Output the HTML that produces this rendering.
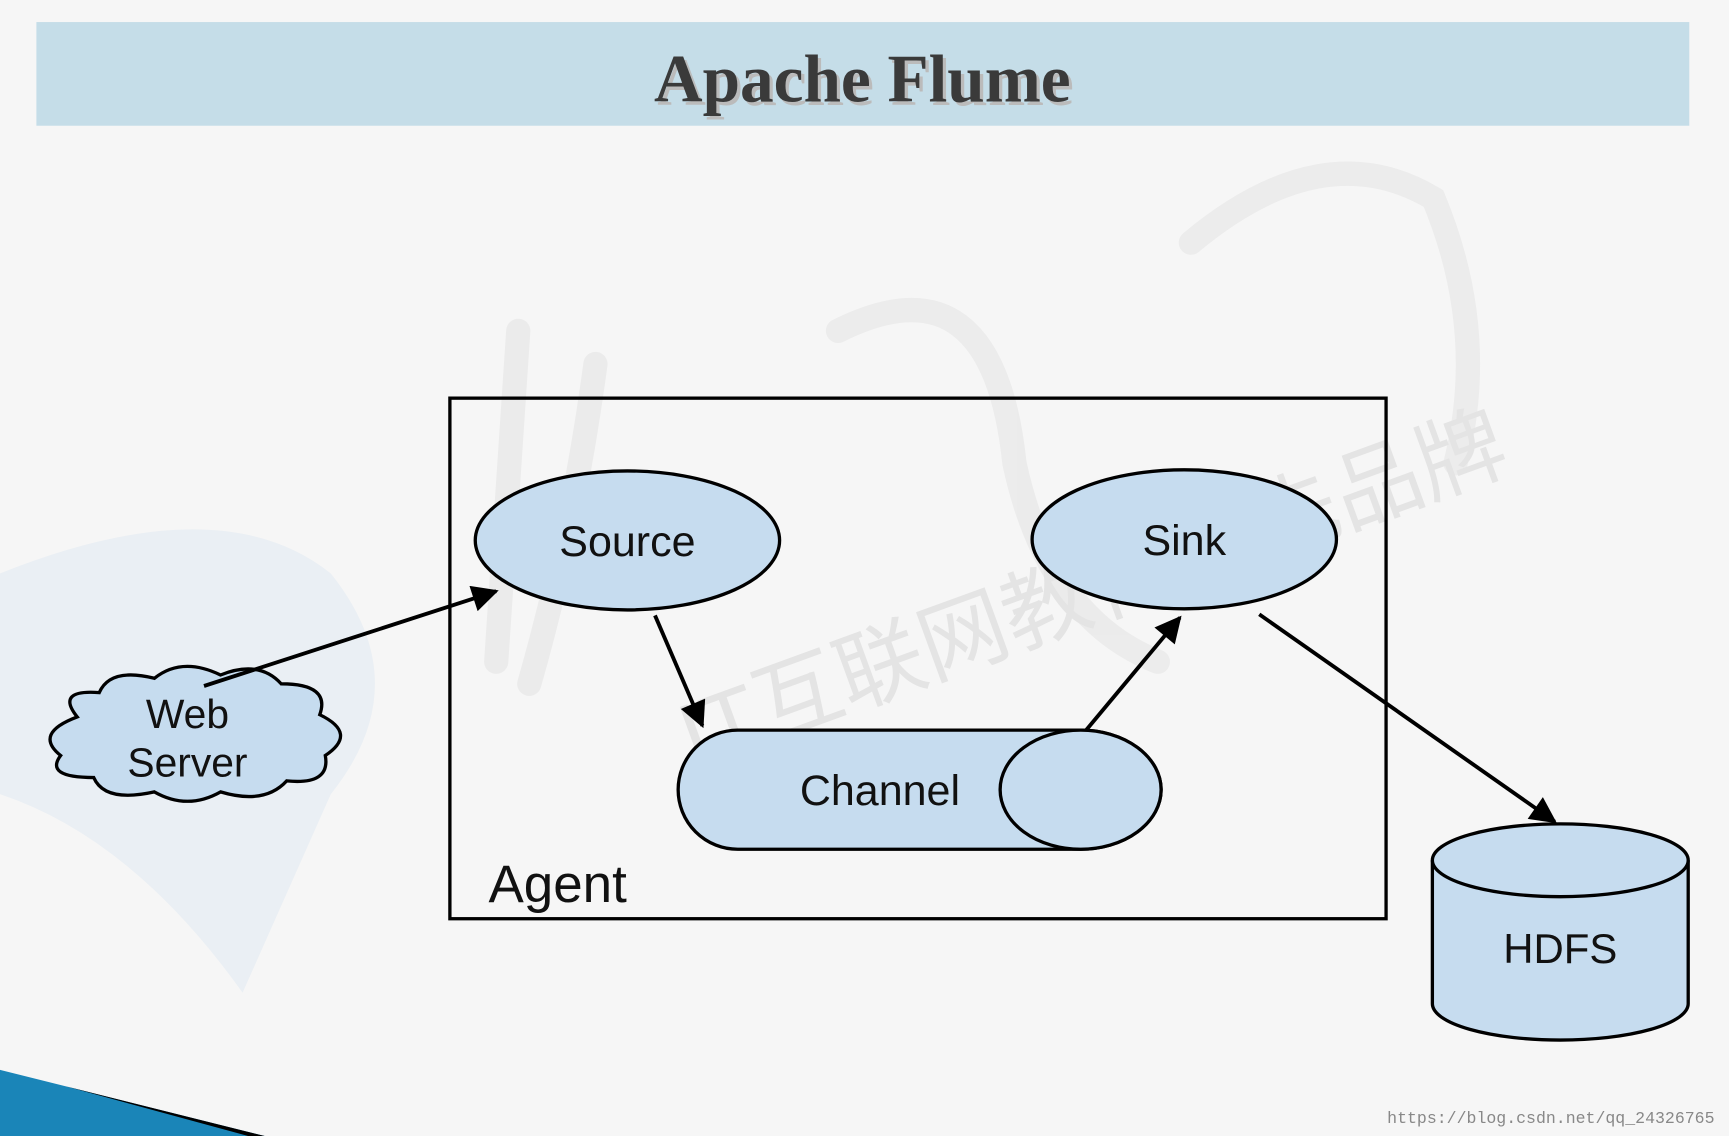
<!DOCTYPE html>
<html><head><meta charset="utf-8"><style>html,body{margin:0;padding:0;background:#f6f6f6;overflow:hidden}svg{display:block}</style></head>
<body>
<svg width="1729" height="1136" viewBox="0 0 1568 1030" preserveAspectRatio="none" xmlns="http://www.w3.org/2000/svg">
<defs>
<marker id="a" viewBox="0 0 10 10" refX="9" refY="5" markerWidth="30" markerHeight="24" orient="auto" markerUnits="userSpaceOnUse"><path d="M0,0 L10,5 L0,10 z" fill="#000"/></marker>
</defs>
<rect width="1568" height="1030" fill="#f6f6f6"/>
<g opacity="0.3" fill="none" stroke="#d5d5d5" stroke-width="22" stroke-linecap="round">
<path d="M470,300 L450,600"/><path d="M540,330 Q520,480 480,620"/>
<path d="M760,300 Q900,230 920,420 Q950,560 1050,600"/>
<path d="M1080,220 Q1200,120 1300,180 Q1350,300 1320,420"/>
</g>
<g opacity="0.25" fill="#c8dcef"><path d="M0,520 Q200,440 300,520 Q380,620 300,720 L220,900 Q120,760 0,720z"/></g>
<text x="1000" y="560" font-family="Liberation Sans, Noto Sans CJK SC, sans-serif" font-size="80" fill="#e4e4e4" transform="rotate(-20 1000 560)" text-anchor="middle">IT互联网教育领先品牌</text>
<rect x="33" y="20" width="1499" height="94" fill="#c5dde8"/>
<text x="785" y="95" text-anchor="middle" font-family="Liberation Serif, serif" font-weight="bold" font-size="61" fill="#bbb">Apache Flume</text>
<text x="782" y="92" text-anchor="middle" font-family="Liberation Serif, serif" font-weight="bold" font-size="61" fill="#3a3a3a">Apache Flume</text>
<rect x="408" y="361" width="849" height="472" fill="none" stroke="#000" stroke-width="3"/>
<text x="443" y="818" font-family="Liberation Sans, sans-serif" font-size="48" fill="#111">Agent</text>
<ellipse cx="569" cy="490" rx="138" ry="63" fill="#c6dcef" stroke="#000" stroke-width="3"/>
<text x="569" y="504" text-anchor="middle" font-family="Liberation Sans, sans-serif" font-size="39" fill="#111">Source</text>
<ellipse cx="1074" cy="489" rx="138" ry="63" fill="#c6dcef" stroke="#000" stroke-width="3"/>
<text x="1074" y="503" text-anchor="middle" font-family="Liberation Sans, sans-serif" font-size="39" fill="#111">Sink</text>
<path d="M669,662 L980,662 A73,54 0 0 1 980,770 L669,770 A54,54 0 0 1 669,662 z" fill="#c6dcef" stroke="#000" stroke-width="3"/>
<ellipse cx="980" cy="716" rx="73" ry="54" fill="#c6dcef" stroke="#000" stroke-width="3"/>
<text x="798" y="730" text-anchor="middle" font-family="Liberation Sans, sans-serif" font-size="39" fill="#111">Channel</text>
<path d="M70,650 Q50,625 90,628 Q100,605 140,615 Q165,595 200,612 Q235,598 255,620 Q300,620 290,648 Q325,665 295,685 Q300,712 260,708 Q240,730 200,718 Q170,735 140,718 Q95,728 85,705 Q40,705 55,685 Q30,665 70,650 z" fill="#c6dcef" stroke="#000" stroke-width="3"/>
<text x="170" y="660" text-anchor="middle" font-family="Liberation Sans, sans-serif" font-size="37" fill="#111">Web</text>
<text x="170" y="704" text-anchor="middle" font-family="Liberation Sans, sans-serif" font-size="37" fill="#111">Server</text>
<path d="M1299,780 L1299,910 A116,33 0 0 0 1531,910 L1531,780" fill="#c6dcef" stroke="#000" stroke-width="3"/>
<ellipse cx="1415" cy="780" rx="116" ry="33" fill="#c6dcef" stroke="#000" stroke-width="3"/>
<text x="1415" y="873" text-anchor="middle" font-family="Liberation Sans, sans-serif" font-size="38" fill="#111">HDFS</text>
<g stroke="#000" stroke-width="3.5" fill="none">
<line x1="185" y1="622" x2="450" y2="536" marker-end="url(#a)"/>
<line x1="594" y1="558" x2="637" y2="658" marker-end="url(#a)"/>
<line x1="985" y1="662" x2="1070" y2="560" marker-end="url(#a)"/>
<line x1="1142" y1="557" x2="1410" y2="745" marker-end="url(#a)"/>
</g>
<path d="M0,970 L240,1030 L0,1030 z" fill="#1a85b8"/>
<path d="M60,985 L240,1030 L225,1030 z" fill="#000"/>
<text x="1258" y="1018" font-family="Liberation Mono, monospace" font-size="15" fill="#888">https://blog.csdn.net/qq_24326765</text>
</svg>
</body></html>
